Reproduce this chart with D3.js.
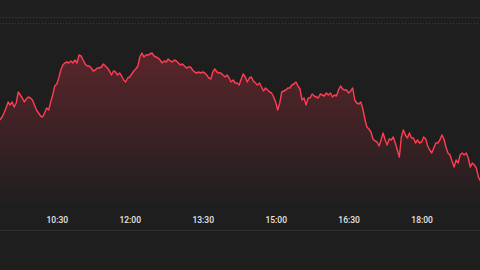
<!DOCTYPE html>
<html>
<head>
<meta charset="utf-8">
<script src="https://cdn.jsdelivr.net/npm/d3@7"></script>
<style>
  html, body { margin: 0; padding: 0; background: #1e1e1e; }
  #graf { width: 480px; height: 270px; }
</style>
</head>
<body>
<div id="graf"></div>
<script>
// intraday prices, one reading every 2.5 minutes from 09:20
const startTime = '09:20'
const endTime = '19:12'
const stepMinutes = 2.5
const prices = [
  18.0, 18.3, 18.7, 19.2, 19.8, 19.5, 19.8, 19.3, 19.7, 20.8,
  20.5, 20.2, 19.8, 20.1, 20.3, 20.2, 20.0, 19.5, 19.0, 18.7,
  18.4, 18.3, 18.7, 19.2, 19.0, 19.8, 20.5, 21.4, 21.6, 22.2,
  23.0, 23.5, 23.7, 23.8, 23.7, 23.9, 23.7, 24.0, 23.7, 24.5,
  24.4, 24.0, 23.6, 23.4, 23.4, 23.2, 22.9, 23.0, 23.2, 23.2,
  23.3, 23.6, 23.4, 23.2, 22.9, 22.5, 22.9, 22.8, 22.5, 22.7,
  22.4, 22.0, 21.8, 22.2, 22.3, 22.6, 22.9, 23.1, 23.4, 24.3,
  24.7, 24.3, 24.5, 24.5, 24.6, 24.7, 24.4, 24.3, 24.2, 24.0,
  23.7, 23.9, 23.8, 24.1, 23.9, 23.8, 24.0, 23.9, 23.7, 23.5,
  23.6, 23.4, 23.2, 23.3, 23.3, 23.0, 22.8, 22.7, 22.8, 22.7,
  22.8, 22.7, 22.5, 22.2, 22.1, 22.8, 23.1, 22.8, 22.7, 22.7,
  22.5, 22.3, 22.5, 22.2, 21.8, 22.0, 21.7, 21.7, 21.5, 22.1,
  22.6, 22.3, 21.8, 22.2, 22.3, 21.9, 21.7, 21.5, 21.7, 21.3,
  20.9, 21.2, 21.0, 20.8, 20.7, 20.3, 19.8, 19.0, 19.7, 20.8,
  20.9, 21.0, 21.2, 21.2, 21.5, 21.6, 21.8, 21.4, 21.1, 20.0,
  20.2, 19.5, 20.2, 20.2, 20.6, 20.4, 20.3, 20.2, 20.6, 20.5,
  20.4, 20.7, 20.5, 20.7, 20.3, 20.5, 20.4, 21.0, 21.4, 21.1,
  21.0, 21.0, 20.7, 20.9, 21.2, 20.0, 19.7, 19.6, 19.8, 19.1,
  18.1, 17.3, 17.1, 16.8, 16.1, 15.9, 15.8, 15.4, 16.0, 16.7,
  16.0, 15.5, 16.1, 16.0, 16.3, 15.7, 15.0, 14.3, 16.3, 17.0,
  16.5, 16.2, 16.7, 16.2, 16.2, 15.7, 16.0, 15.7, 15.8, 16.3,
  16.1, 15.4, 15.0, 14.7, 15.2, 15.7, 15.7, 16.0, 16.5, 16.1,
  15.3, 14.7, 14.5, 13.9, 13.3, 14.0, 13.7, 14.5, 14.7, 14.5,
  14.7, 14.2, 13.3, 13.7, 13.5, 13.2, 12.3, 11.9
]
const tickLabels = ['10:30', '12:00', '13:30', '15:00', '16:30', '18:00']
const priceRange = [7, 27.7]

const anchoTotal = 480
const altoTotal = 270
const parser = d3.timeParse('%H:%M')
const t0 = parser(startTime)

const data = prices.map((p, i) => ({
  time: d3.timeSecond.offset(t0, i * stepMinutes * 60),
  price: p,
}))

const svg = d3
  .select('#graf')
  .append('svg')
  .attr('width', anchoTotal)
  .attr('height', altoTotal)
  .style('display', 'block')

svg.append('rect')
  .attr('width', anchoTotal)
  .attr('height', altoTotal)
  .attr('fill', '#1e1e1e')

const x = d3.scaleTime().domain([t0, parser(endTime)]).range([0, anchoTotal])
const y = d3.scaleLinear().domain(priceRange).range([230, 23])

// grid lines
svg.append('line')
  .attr('x1', 0).attr('x2', anchoTotal)
  .attr('y1', 17.5).attr('y2', 17.5)
  .attr('stroke', '#2b2b2b')
svg.append('line')
  .attr('x1', 0).attr('x2', anchoTotal)
  .attr('y1', y(priceRange[1]) + 0.5).attr('y2', y(priceRange[1]) + 0.5)
  .attr('stroke', '#3c3c3c')
  .attr('stroke-dasharray', '1,2')
svg.append('line')
  .attr('x1', 0).attr('x2', anchoTotal)
  .attr('y1', y(priceRange[0]) + 0.5).attr('y2', y(priceRange[0]) + 0.5)
  .attr('stroke', '#303030')

const defs = svg.append('defs')
const grad = defs.append('linearGradient')
  .attr('id', 'relleno')
  .attr('gradientUnits', 'userSpaceOnUse')
  .attr('x1', 0).attr('x2', 0)
  .attr('y1', y(24.7)).attr('y2', y(9))
grad.append('stop').attr('offset', 0).attr('stop-color', '#ff3b4f').attr('stop-opacity', 0.26)
grad.append('stop').attr('offset', 0.55).attr('stop-color', '#ff3b4f').attr('stop-opacity', 0.12)
grad.append('stop').attr('offset', 1).attr('stop-color', '#ff3b4f').attr('stop-opacity', 0)

const area = d3.area()
  .x((d) => x(d.time))
  .y0(y(priceRange[0]))
  .y1((d) => y(d.price))

const linea = d3.line()
  .x((d) => x(d.time))
  .y((d) => y(d.price))

svg.append('path')
  .attr('d', area(data))
  .attr('fill', 'url(#relleno)')

svg.append('path')
  .attr('d', linea(data))
  .attr('fill', 'none')
  .attr('stroke', '#ff3d52')
  .attr('stroke-width', 1.4)
  .attr('stroke-linejoin', 'round')

const xAxis = svg.append('g')
  .attr('transform', 'translate(0, 217)')
  .call(
    d3.axisBottom(x)
      .tickValues(tickLabels.map(parser))
      .tickFormat(d3.timeFormat('%H:%M'))
      .tickSize(0)
      .tickPadding(0)
  )
xAxis.select('.domain').remove()
xAxis.selectAll('text')
  .attr('fill', '#e6e6e6')
  .style('font-family', 'Roboto, sans-serif')
  .style('font-size', '8.5px')
  .style('font-weight', 500)
</script>
</body>
</html>
